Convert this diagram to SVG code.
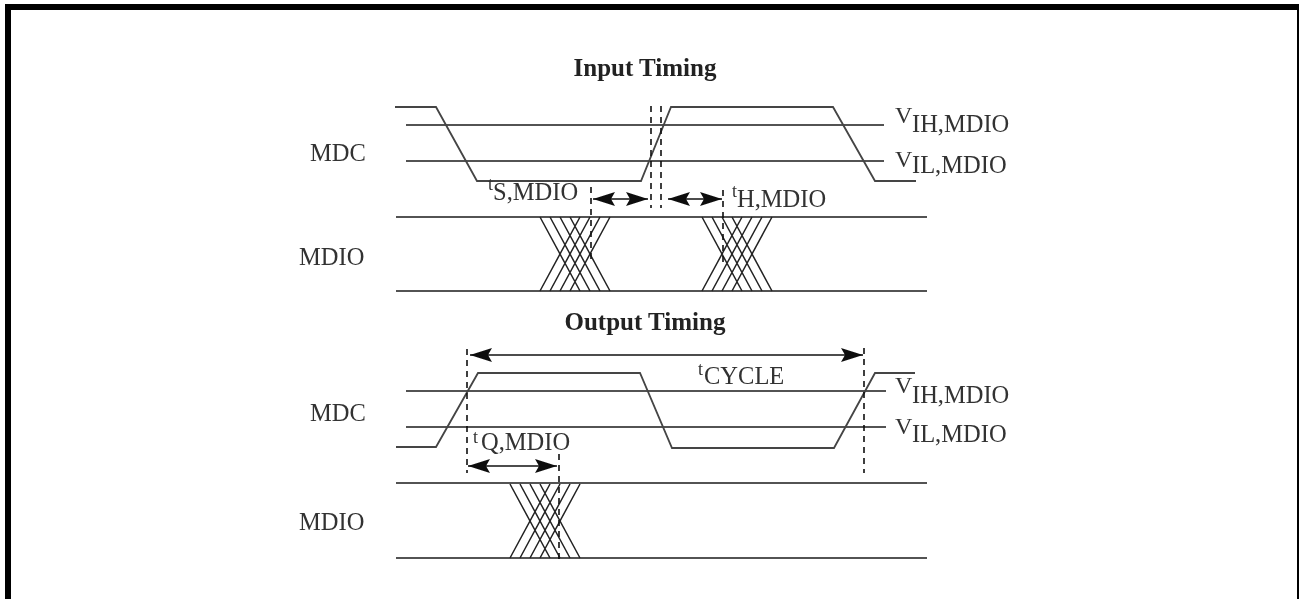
<svg xmlns="http://www.w3.org/2000/svg" width="1299" height="599" viewBox="0 0 1299 599">
<style>
.t{font-family:"Liberation Serif","Times New Roman",serif;font-size:24.500px;fill:#333}
.m{font-size:18px}
.v{font-size:24px}
.b{font-family:"Liberation Serif","Times New Roman",serif;font-size:25px;font-weight:bold;fill:#222;text-anchor:middle}
.l{fill:none;stroke:#1a1a1a;stroke-width:1.700}
.w{fill:none;stroke:#444;stroke-width:1.800}
.x{fill:none;stroke:#222;stroke-width:1.500}
.d{fill:none;stroke:#111;stroke-width:1.600;stroke-dasharray:6 5}
.a{fill:none;stroke:#111;stroke-width:1.600;marker-start:url(#h);marker-end:url(#h)}
</style>
<defs>
<marker id="h" markerUnits="userSpaceOnUse" markerWidth="24" markerHeight="16" refX="22" refY="8" orient="auto-start-reverse"><path d="M0 1L22 8L0 15L4 8Z" fill="#111"/></marker>
<path id="cross" d="M0 0L40 74M10 0L50 74M20 0L60 74M30 0L70 74M40 0L0 74M50 0L10 74M60 0L20 74M70 0L30 74" class="x"/>
<filter id="soft" x="0" y="0" width="1" height="1"><feGaussianBlur stdDeviation="0.45"/></filter>
</defs>
<rect x="0" y="0" width="1299" height="599" fill="#fff"/>
<path d="M8 599V7H1298" fill="none" stroke="#000" stroke-width="6"/>
<rect x="1297" y="4" width="2" height="595" fill="#000"/>
<g filter="url(#soft)">
<g id="input-timing">
<text class="b" x="645" y="76">Input Timing</text>
<text class="t" x="310" y="161">MDC</text>
<text class="t" x="299" y="265">MDIO</text>
</g>
<g id="output-timing">
<text class="b" x="645" y="330">Output Timing</text>
<text class="t" x="310" y="421">MDC</text>
<text class="t" x="299" y="530">MDIO</text>
</g>
<g id="connectors">
<path class="l" d="M406 125H884M406 161H884M396 217H927M396 291H927"/>
<path class="w" d="M395 107H436L477 181H641L671 107H833L875 181H916"/>
<use href="#cross" x="540" y="217"/>
<use href="#cross" x="702" y="217"/>
<path class="d" d="M591 187V262M651 106V208M661 106V208M723 190V262"/>
<path class="a" d="M593 199H648"/>
<path class="a" d="M668 199H722"/>
<path class="l" d="M406 391H886M406 427H886M396 483H927M396 558H927"/>
<path class="w" d="M396 447H436L478 373H640L672 448H834L875 373H915"/>
<use href="#cross" x="510" y="484"/>
<path class="d" d="M467 349V473M864 348V473M559 454V560"/>
<path class="a" d="M470 355H863"/>
<path class="a" d="M468 466H557"/>
</g>
<g id="labels">
<text class="t" x="488" y="190"><tspan class="m">t</tspan><tspan x="493" y="200">S,MDIO</tspan></text>
<text class="t" x="732" y="197"><tspan class="m">t</tspan><tspan x="737" y="207">H,MDIO</tspan></text>
<text class="t" x="895" y="123"><tspan class="v">V</tspan><tspan x="912" y="132">IH,MDIO</tspan></text>
<text class="t" x="895" y="167"><tspan class="v">V</tspan><tspan x="912" y="173">IL,MDIO</tspan></text>
<text class="t" x="895" y="393"><tspan class="v">V</tspan><tspan x="912" y="403">IH,MDIO</tspan></text>
<text class="t" x="895" y="434"><tspan class="v">V</tspan><tspan x="912" y="442">IL,MDIO</tspan></text>
<text class="t" x="698" y="375"><tspan class="m">t</tspan><tspan x="704" y="384">CYCLE</tspan></text>
<text class="t" x="473" y="443"><tspan class="m">t</tspan><tspan x="481" y="450">Q,MDIO</tspan></text>
</g>
</g>
</svg>
